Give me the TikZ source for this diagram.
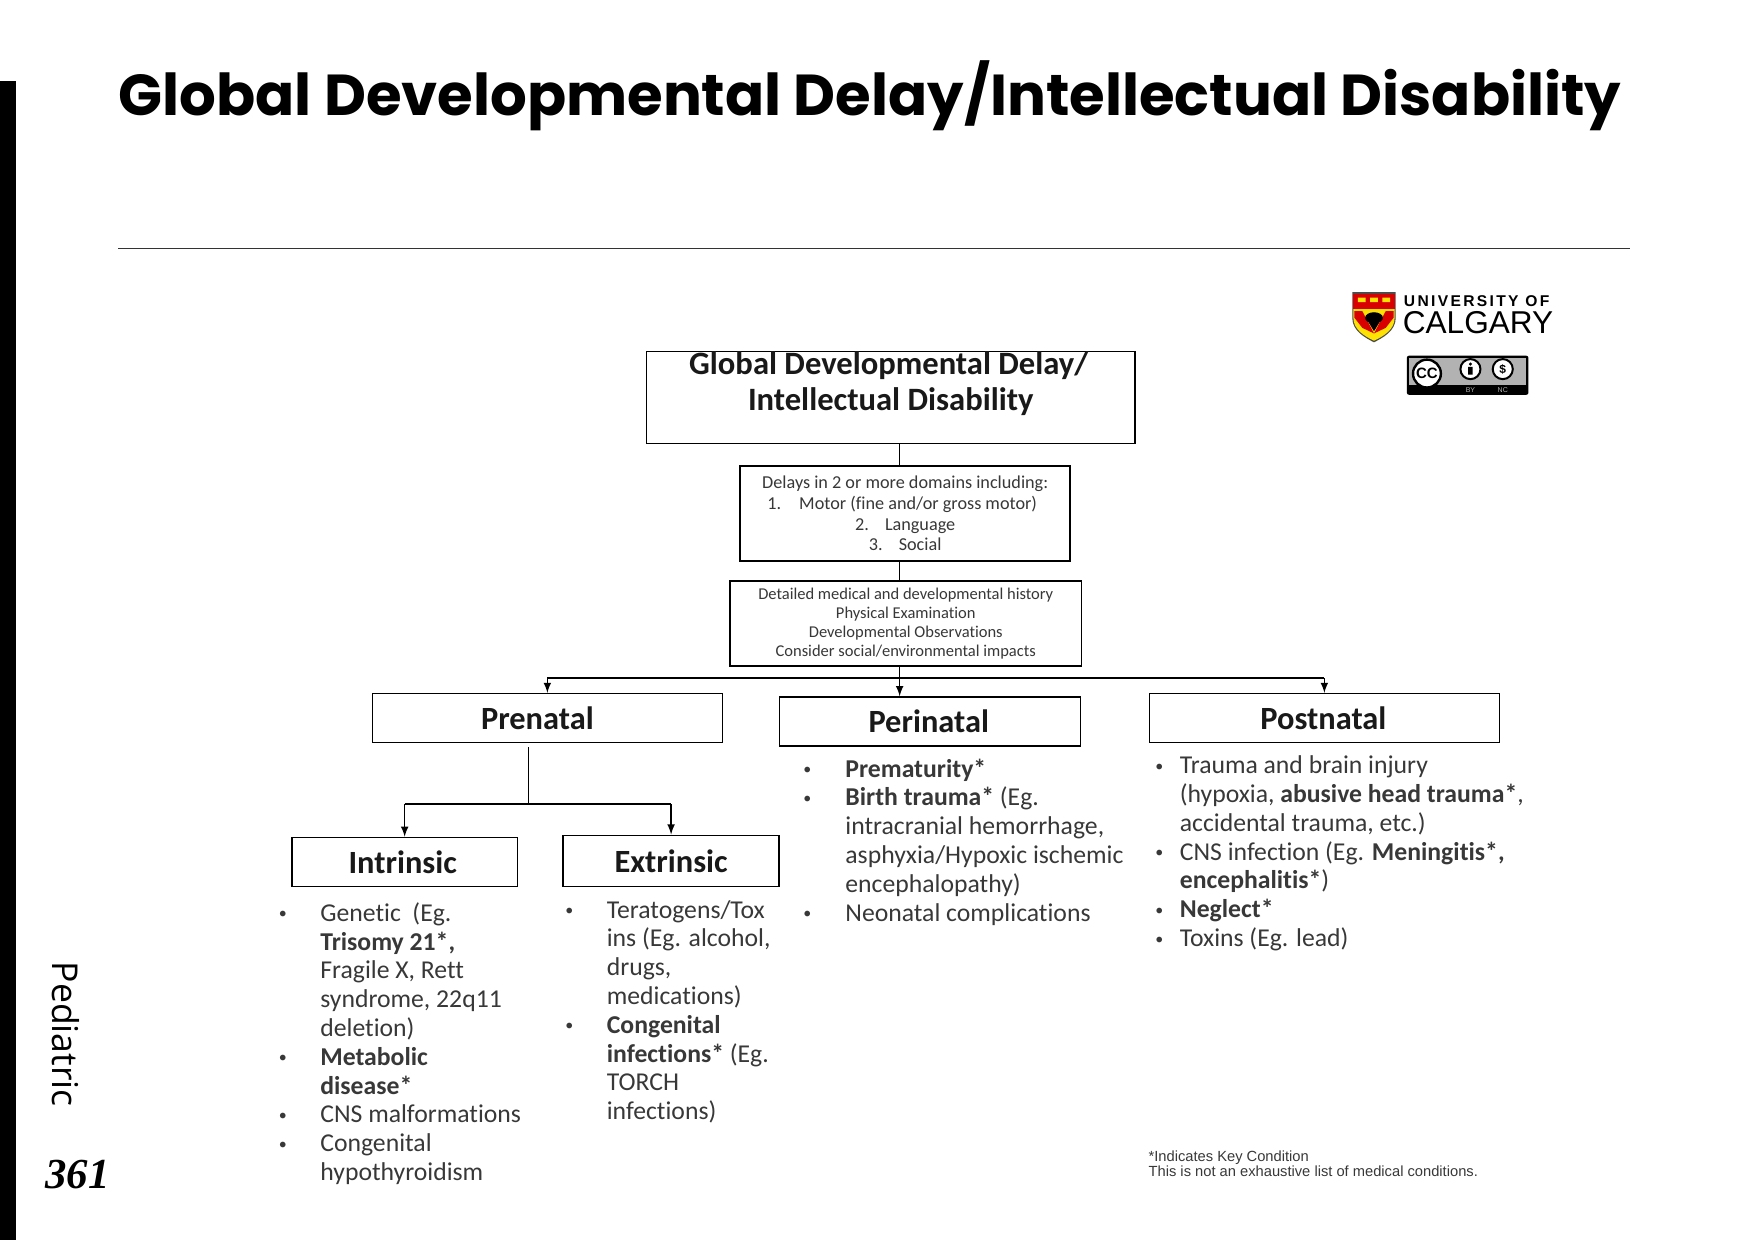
\documentclass[tikz,border=0pt]{standalone}
\usepackage{fontspec}
\setmainfont[Ligatures=NoCommon]{Carlito}
\newfontfamily\headfont{Poppins}
\newfontfamily\sidefont{Open Sans}
\newfontfamily\notefont{Liberation Sans}
\newfontfamily\pagefont{Liberation Serif}
\usepackage{tikz}
\usetikzlibrary{arrows}
\definecolor{listgray}{gray}{0.22}
\tikzstyle{boxed}=[draw=black,line width=0.75pt,align=center,inner sep=0pt,fill=white,text=black!90]
\tikzstyle{branch}=[boxed,minimum height=24.5pt,font=\bfseries\fontsize{16.2}{19}\selectfont]
\tikzstyle{smallbox}=[boxed,text=listgray]
\tikzstyle{listing}=[anchor=north west,align=left,inner sep=0pt,text=listgray,font=\fontsize{12.85}{14.4}\selectfont]
\tikzstyle{flow}=[line width=0.75pt,-latex]
\tikzstyle{link}=[line width=0.75pt]
\newcommand{\blt}[1]{\llap{\raisebox{1.2pt}{\fontsize{8}{8}\selectfont\textbullet}\hspace{#1}}}
\begin{document}
\begin{tikzpicture}[x=0.5574pt,y=-0.55755pt]
		\useasboundingbox (0,0) rectangle (1568,1112);
		\fill[black] (0,73) rectangle (14,1112);
		\node[anchor=west,inner sep=0pt,font=\headfont\bfseries\fontsize{28.87}{32}\selectfont] (heading) at (106,86) {Global Developmental Delay/Intellectual Disability};
		\draw[line width=0.5pt,black!80] (106,223) -- (1462,223);
		\node[rotate=-90,inner sep=0pt,font=\sidefont\fontsize{17.8}{20}\selectfont] (side) at (59.5,927.5) {Pediatric};
		\node[inner sep=0pt,font=\pagefont\bfseries\itshape\fontsize{21.4}{24}\selectfont] (page) at (69.5,1053) {361};
		\node[boxed,minimum width=244.1pt,minimum height=44pt,font=\bfseries\fontsize{16.3}{17.8}\selectfont] (title) at (799,356.5) {\kern-2pt Global Developmental Delay/\\Intellectual Disability\\[-1.2pt]\mbox{}};
		\node[smallbox,minimum width=165pt,minimum height=47.4pt,font=\fontsize{9.1}{10.3}\selectfont] (delays) at (812,460.5) {Delays in 2 or more domains including:\\\kern-3pt 1.\hspace{9pt}Motor (fine and/or gross motor)\\2.\hspace{8pt}Language\\3.\hspace{8pt}Social};
		\node[smallbox,minimum width=175.6pt,minimum height=42.4pt,font=\fontsize{8.25}{9.5}\selectfont] (detail) at (812.5,559) {Detailed medical and developmental history\\Physical Examination\\Developmental Observations\\Consider social/environmental impacts};
		\node[branch,minimum width=175pt] (prenatal) at (491,644) {\kern-10pt Prenatal};
		\node[branch,minimum width=150.5pt] (perinatal) at (834,647) {\kern-1pt Perinatal};
		\node[branch,minimum width=175pt] (postnatal) at (1188,644) {\kern-1pt Postnatal};
		\node[branch,minimum width=112.6pt] (intrinsic) at (363,773) {\kern-2pt Intrinsic};
		\node[branch,minimum width=108.1pt,minimum height=25.6pt] (extrinsic) at (602,772) {Extrinsic};
		\coordinate (trunk) at (807,608);
		\coordinate (stem) at (474,670);
		\coordinate (split) at (474,721);
		\draw[link] (title.south -| trunk) -- (delays.north -| trunk);
		\draw[link] (delays.south -| trunk) -- (detail.north -| trunk);
		\draw[flow] (detail.south -| trunk) -- (perinatal.north -| trunk);
		\draw[link] (trunk -| prenatal.north) -- (trunk -| postnatal.north);
		\draw[flow] (trunk -| prenatal.north) -- (prenatal.north);
		\draw[flow] (trunk -| postnatal.north) -- (postnatal.north);
		\draw[link] (stem) -- (split);
		\draw[link] (split -| intrinsic.north) -- (split -| extrinsic.north);
		\draw[flow] (split -| intrinsic.north) -- (intrinsic.north);
		\draw[flow] (split -| extrinsic.north) -- (extrinsic.north);
		\node[listing] (intrinsiclist) at (287,809) {\blt{16.7pt}Genetic\ \ (Eg.\\\textbf{Trisomy 21*,}\\Fragile X, Rett\\syndrome, 22q11\\deletion)\\\blt{16.7pt}\textbf{Metabolic}\\\textbf{disease*}\\\blt{16.7pt}CNS malformations\\\blt{16.7pt}Congenital\\hypothyroidism};
		\node[listing] (extrinsiclist) at (544,807) {\blt{16.7pt}Teratogens/Tox\\ins (Eg. alcohol,\\drugs,\\medications)\\\blt{16.7pt}\textbf{Congenital}\\\textbf{infections*} (Eg.\\TORCH\\infections)};
		\node[listing] (perinatallist) at (758,680) {\blt{17pt}\textbf{Prematurity*}\\\blt{17pt}\textbf{Birth trauma*} (Eg.\\intracranial hemorrhage,\\asphyxia/Hypoxic ischemic\\encephalopathy)\\\blt{17pt}Neonatal complications};
		\node[listing] (postnatallist) at (1058,677.5) {\blt{8.3pt}Trauma and brain injury\\(hypoxia, \textbf{abusive head trauma*},\\accidental trauma, etc.)\\\blt{8.3pt}CNS infection (Eg. \textbf{Meningitis*,}\\\textbf{encephalitis*})\\\blt{8.3pt}\textbf{Neglect*}\\\blt{8.3pt}Toxins (Eg. lead)};
		\node[anchor=north west,align=left,inner sep=0pt,text=listgray,font=\notefont\fontsize{7.35}{7.8}\selectfont] (footnote) at (1030,1031.5) {*Indicates Key Condition\\This is not an exhaustive list of medical conditions.};
		% logo
		\fill[black!70] (1213,262) -- (1252,262) -- (1252,285) .. controls (1252,297) and (1240,303) .. (1232.5,307) .. controls (1225,303) and (1213,297) .. (1213,285) -- cycle;
		\fill[yellow!85!orange] (1214,272) -- (1251,272) -- (1251,285) .. controls (1251,296) and (1240,302) .. (1232.5,305.5) .. controls (1225,302) and (1214,296) .. (1214,285) -- cycle;
		\fill[red!85!black] (1214,263.5) rectangle (1251,277);
		\fill[yellow!85!orange] (1218,267) rectangle (1225,271) (1229,267) rectangle (1236,271) (1240,267) rectangle (1247,271);
		\fill[red!85!black] (1215,279) -- (1222,279) -- (1232.5,299) -- (1222,294) -- (1215,285) -- cycle;
		\fill[red!85!black] (1250,279) -- (1243,279) -- (1232.5,299) -- (1243,294) -- (1250,285) -- cycle;
		\fill[black] (1232.5,285) ellipse (8 and 5);
		\fill[black] (1227,288) -- (1238,288) -- (1232.5,297) -- cycle;
		\node[anchor=west,inner sep=0pt,font=\notefont\bfseries\addfontfeatures{LetterSpace=15}\fontsize{7.8}{8}\selectfont] (university) at (1259,270) {UNIVERSITY OF};
		\node[anchor=west,inner sep=0pt,font=\notefont\fontsize{15.8}{16}\selectfont] (calgary) at (1258,289) {CALGARY};
		% licence badge
		\fill[black,rounded corners=1pt] (1262,319) rectangle (1371,354);
		\fill[black!30] (1264,321) rectangle (1369,345);
		\filldraw[fill=white,draw=black,line width=1.2pt] (1280,335) circle (12.5);
		\node[inner sep=0pt,font=\notefont\bfseries\fontsize{7.5}{8}\selectfont] (ccmark) at (1280,335) {CC};
		\filldraw[fill=white,draw=black,line width=1pt] (1319,331) circle (9);
		\fill[black] (1319,326.5) circle (1.5) (1317,329) rectangle (1321,336);
		\filldraw[fill=white,draw=black,line width=1pt] (1348,331) circle (9);
		\node[inner sep=0pt,font=\notefont\bfseries\fontsize{6}{7}\selectfont] (ncmark) at (1348,331) {\$};
		\node[inner sep=0pt,text=black!30,font=\notefont\fontsize{3.5}{4}\selectfont] (bymark) at (1319,349.5) {BY};
		\node[inner sep=0pt,text=black!30,font=\notefont\fontsize{3.5}{4}\selectfont] (ncname) at (1348,349.5) {NC};
	\end{tikzpicture}
\end{document}
